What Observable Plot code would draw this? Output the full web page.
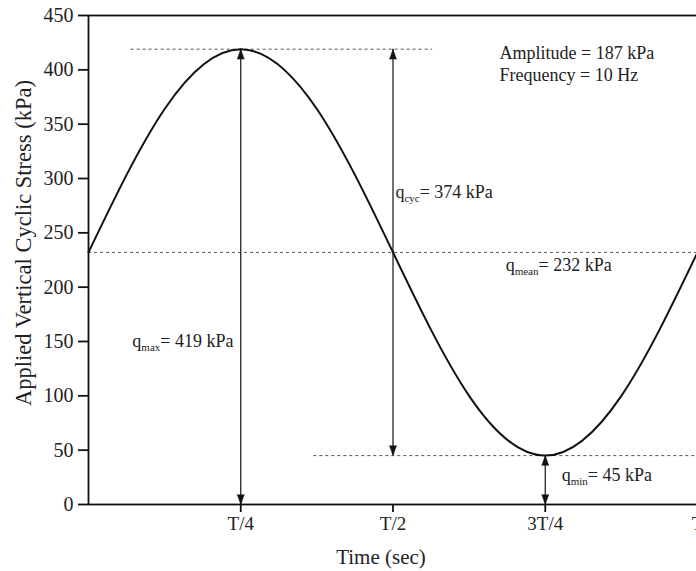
<!DOCTYPE html>
<html>
<head>
<meta charset="utf-8">
<script src="https://cdn.jsdelivr.net/npm/d3@7"></script>
<script src="https://cdn.jsdelivr.net/npm/@observablehq/plot@0.6"></script>
<style>
  html, body { margin: 0; padding: 0; background: #fff; overflow: hidden; }
  #chart { width: 696px; height: 571px; overflow: hidden; }
</style>
</head>
<body>
<div id="chart"></div>
<script>
// One loading cycle of the applied vertical stress, read at every eighth of the period T
const cycleFraction = [0, 0.125, 0.25, 0.375, 0.5, 0.625, 0.75, 0.875, 1];
const stress = [232, 364, 419, 364, 232, 100, 45, 100, 232];

// Characteristic stresses of the cycle (kPa) and loading frequency (Hz)
const qMax = 419;
const qMin = 45;
const qMean = 232;
const qCyc = 374;
const amplitude = 187;
const frequency = 10;

// Axis ticks
const yTicks = [0, 50, 100, 150, 200, 250, 300, 350, 400, 450];
const xTicks = [0.25, 0.5, 0.75, 1];
const xTickLabels = ["T/4", "T/2", "3T/4", "T"];

// Dimension arrows: time of each arrow and the stresses it spans
const arrowTimes = [0.25, 0.5, 0.75];
const arrowLow = [0, qMin, 0];
const arrowHigh = [qMax, qMax, qMin];

const curve = cycleFraction.map((t, i) => ({t, q: stress[i]}));
const arrows = arrowTimes.map((t, i) => ({t, lo: arrowLow[i], hi: arrowHigh[i]}));

const serif = "'Liberation Serif', 'Times New Roman', Times, serif";
const ink = "#111";
const textInk = "#222";

const svg = Plot.plot({
  width: 712,
  height: 571,
  marginLeft: 88,
  marginRight: 15,
  marginTop: 15,
  marginBottom: 67,
  style: {fontFamily: serif, maxWidth: "none", background: "#fff", color: textInk},
  x: {domain: [0, 1]},
  y: {domain: [0, 450]},
  marks: [
    // reference levels
    Plot.ruleY([qMax], {x1: 0.07, x2: 0.565, stroke: "#555", strokeWidth: 1, strokeDasharray: "3,3"}),
    Plot.ruleY([qMean], {x1: 0, x2: 1, stroke: "#555", strokeWidth: 1, strokeDasharray: "3,3"}),
    Plot.ruleY([qMin], {x1: 0.37, x2: 1, stroke: "#555", strokeWidth: 1, strokeDasharray: "3,3"}),

    // stress cycle
    Plot.line(curve, {x: "t", y: "q", curve: "natural", stroke: ink, strokeWidth: 2}),

    // dimension arrows (shaft plus a head at each end)
    Plot.ruleX(arrows, {x: "t", y1: "lo", y2: "hi", stroke: ink, strokeWidth: 1.2}),
    Plot.vector(arrows, {x: "t", y: "hi", rotate: 0, length: 10, r: 3.5, shape: "spike", anchor: "end", fill: ink, stroke: ink, strokeWidth: 0.5}),
    Plot.vector(arrows, {x: "t", y: "lo", rotate: 180, length: 10, r: 3.5, shape: "spike", anchor: "end", fill: ink, stroke: ink, strokeWidth: 0.5}),

    // frame and axes
    Plot.frame({stroke: ink, strokeWidth: 1.8}),
    Plot.axisY(yTicks, {tickSize: 10, tickPadding: 5, fontSize: 20, strokeWidth: 1.8, stroke: ink, fill: textInk, label: null}),
    Plot.axisX(xTicks, {tickSize: 8, tickPadding: 4, fontSize: 19, strokeWidth: 1.8, stroke: ink, fill: textInk, label: null,
      tickFormat: d => xTickLabels[xTicks.indexOf(d)]}),

    // axis titles
    Plot.text(["Applied Vertical Cyclic Stress (kPa)"], {frameAnchor: "left", textAnchor: "middle", rotate: -90, dx: -65, dy: -17, fontSize: 22.5, fill: textInk, lineAnchor: "middle"}),
    Plot.text(["Time (sec)"], {frameAnchor: "bottom", textAnchor: "middle", dx: -12, dy: 53, fontSize: 21, fill: textInk, lineAnchor: "middle"}),

    // loading parameters
    Plot.text([`Amplitude = ${amplitude} kPa`], {x: 0.675, y: 415, textAnchor: "start", fontSize: 18, fill: textInk}),
    Plot.text([`Frequency = ${frequency} Hz`], {x: 0.675, y: 395, textAnchor: "start", fontSize: 18, fill: textInk}),

    // stress annotations (subscripts are set after rendering)
    Plot.text([`q_{max}= ${qMax} kPa`], {x: 0.072, y: 150, textAnchor: "start", fontSize: 18, fill: textInk}),
    Plot.text([`q_{cyc}= ${qCyc} kPa`], {x: 0.504, y: 287, textAnchor: "start", fontSize: 18, fill: textInk}),
    Plot.text([`q_{mean}= ${qMean} kPa`], {x: 0.685, y: 220, textAnchor: "start", fontSize: 18, fill: textInk}),
    Plot.text([`q_{min}= ${qMin} kPa`], {x: 0.777, y: 27, textAnchor: "start", fontSize: 18, fill: textInk})
  ]
});

// Turn "q_{sub}rest" labels into q with a lowered, smaller subscript
const ns = "http://www.w3.org/2000/svg";
svg.querySelectorAll("text").forEach(node => {
  const m = /^q_\{(\w+)\}(.*)$/.exec(node.textContent);
  if (!m) return;
  node.textContent = "";
  const base = document.createElementNS(ns, "tspan");
  base.textContent = "q";
  const sub = document.createElementNS(ns, "tspan");
  sub.textContent = m[1];
  sub.setAttribute("font-size", "11");
  sub.setAttribute("dy", "4");
  const rest = document.createElementNS(ns, "tspan");
  rest.textContent = m[2];
  rest.setAttribute("dy", "-4");
  node.append(base, sub, rest);
});

document.getElementById("chart").appendChild(svg);
</script>
</body>
</html>
